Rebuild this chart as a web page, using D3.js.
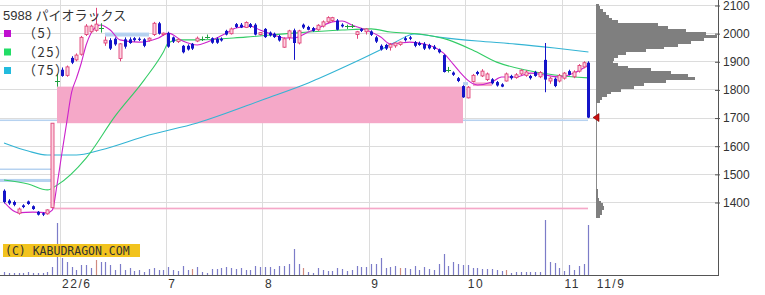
<!DOCTYPE html>
<html>
<head>
<meta charset="utf-8">
<script src="https://cdn.jsdelivr.net/npm/d3@7"></script>
<style>
body { margin: 0; background: #fff; }
text { font-family: "Liberation Sans", "Noto Sans CJK JP", Arial, sans-serif; }
</style>
</head>
<body>
<svg id="chart" width="765" height="295"></svg>
<script>
// trading days shown (22/5/16 - 22/11/9)
var dates = ["5/16","5/17","5/18","5/19","5/20","5/23","5/24","5/25","5/26","5/27","5/30","5/31",
    "6/1","6/2","6/3","6/6","6/7","6/8","6/9","6/10","6/13","6/14","6/15","6/16","6/17","6/20","6/21","6/22","6/23","6/24","6/27","6/28","6/29","6/30",
    "7/1","7/4","7/5","7/6","7/7","7/8","7/11","7/12","7/13","7/14","7/15","7/19","7/20","7/21","7/22","7/25","7/26","7/27","7/28","7/29",
    "8/1","8/2","8/3","8/4","8/5","8/8","8/9","8/10","8/12","8/15","8/16","8/17","8/18","8/19","8/22","8/23","8/24","8/25","8/26","8/29","8/30","8/31",
    "9/1","9/2","9/5","9/6","9/7","9/8","9/9","9/12","9/13","9/14","9/15","9/16","9/20","9/21","9/22","9/26","9/27","9/28","9/29","9/30",
    "10/3","10/4","10/5","10/6","10/7","10/11","10/12","10/13","10/14","10/17","10/18","10/19","10/20","10/21","10/24","10/25","10/26","10/27","10/28","10/31",
    "11/1","11/2","11/4","11/7","11/8","11/9"];

var opens = [1440,1405,1400,1360,1388,1402,1385,1365,1360,1358,
    1380,1830,1870,1850,1912,1905,1925,1995,2005,2010,
    2018,1965,1975,1980,1910,1978,1978,1982,1980,1978,
    1975,1995,2035,1995,2000,1985,1970,1955,1955,1962,
    1972,1978,1985,1982,1980,1980,2008,1998,2032,2030,
    2020,2032,2030,1995,2015,2002,1998,1990,1950,1985,
    2010,1965,2030,2022,2018,2012,2025,2040,2045,2045,
    2030,2025,2025,1995,2015,2005,2006,1985,1955,1958,
    1950,1955,1960,1982,1985,1968,1965,1962,1958,1952,
    1942,1922,1870,1860,1840,1812,1770,1828,1862,1848,
    1835,1836,1826,1818,1830,1848,1842,1855,1850,1848,
    1862,1845,1905,1830,1838,1830,1840,1865,1845,1865,
    1880,1895];
var highs = [1445,1410,1405,1380,1392,1405,1388,1368,1363,1374,
    1680,1855,1878,1885,1918,1928,1990,2032,2030,2090,
    2035,1988,1982,1985,1965,1985,1985,1986,1985,1982,
    1985,2040,2040,2002,2005,1988,1982,1958,1960,1965,
    1988,1988,1995,1985,1985,1985,2012,2020,2036,2036,
    2042,2036,2035,2004,2018,2006,2002,1994,1985,2012,
    2016,2012,2034,2026,2022,2032,2045,2060,2058,2050,
    2035,2030,2032,2008,2018,2018,2010,1990,1960,1962,
    1965,1968,1970,1988,1990,1972,1970,1968,1962,1958,
    1945,1925,1880,1864,1844,1815,1812,1855,1866,1872,
    1860,1840,1830,1822,1860,1852,1858,1872,1868,1852,
    1866,1865,1965,1845,1842,1855,1862,1870,1868,1890,
    1900,1900];
var lows = [1395,1390,1385,1355,1378,1390,1372,1352,1350,1355,
    1380,1810,1845,1845,1890,1900,1920,1990,2000,2005,
    2002,1955,1940,1955,1900,1945,1962,1970,1972,1950,
    1970,1990,1995,1990,1948,1965,1965,1928,1938,1940,
    1968,1972,1980,1962,1962,1970,1992,1995,2018,2018,
    2018,2018,1992,1992,1983,1988,1983,1970,1948,1975,
    1905,1960,2015,2010,2005,2008,2020,2035,2040,2010,
    2020,2015,2018,1980,2004,1995,1990,1965,1938,1940,
    1938,1948,1955,1970,1975,1950,1955,1940,1942,1940,
    1928,1860,1860,1848,1826,1770,1768,1825,1850,1844,
    1830,1818,1810,1808,1828,1835,1838,1850,1845,1835,
    1845,1840,1790,1820,1808,1825,1835,1850,1840,1860,
    1875,1698];
var closes = [1400,1395,1390,1375,1382,1393,1375,1355,1355,1372,
    1680,1830,1848,1880,1895,1922,1985,2025,2025,2032,
    2018,1975,1945,1960,1962,1952,1965,1975,1976,1955,
    1982,2035,1998,2000,1952,1970,1978,1932,1942,1945,
    1982,1978,1985,1966,1966,1974,1995,2015,2022,2020,
    2038,2022,1995,2002,1986,1992,1986,1974,1980,2008,
    1965,2008,2020,2012,2008,2028,2040,2055,2055,2012,
    2024,2025,2025,2005,2008,2015,1994,1970,1942,1945,
    1960,1965,1968,1975,1980,1955,1958,1945,1946,1944,
    1932,1862,1870,1852,1830,1772,1808,1850,1855,1865,
    1855,1822,1814,1810,1855,1840,1852,1868,1862,1840,
    1848,1860,1835,1840,1812,1850,1858,1852,1862,1885,
    1895,1700];
// volume, 10k shares
var volumes = [3,2,2,2,2,3,2,2,2,3,
    8,52,17,13,8,5,10,10,7,15,
    13,13,10,5,11,5,7,4,5,3,
    6,7,5,5,8,5,4,9,5,6,
    8,3,2,6,6,7,8,7,6,7,
    5,5,9,8,8,8,6,9,9,11,
    26,11,7,3,2,7,5,4,4,7,
    6,4,5,9,8,8,11,11,17,7,
    8,9,7,7,6,9,5,8,6,5,
    11,21,9,13,11,10,10,7,7,6,
    6,6,5,4,5,2,3,3,3,3,
    3,3,55,13,12,7,4,10,5,9,
    11,50];
var volMarked = [19, 39, 62, 82, 104];

// moving averages: [day index, price]
var ma5 = [[0,1400],[3,1362],[6,1364],[9,1362],[10,1371],[11,1464],[12,1575],[13,1685],[14,1790],[15,1840],
    [16,1894],[17,1958],[18,2000],[19,2022],[20,2029],[22,2011],[24,1976],[28,1968],[32,1983],[34,2000],
    [37,1972],[40,1958],[42,1968],[44,1983],[46,2000],[48,2018],[51,2025],[53,2011],[56,1993],[58,1983],
    [60,1983],[63,2004],[65,2018],[68,2040],[70,2043],[72,2029],[75,2011],[78,1986],[80,1961],[82,1965],
    [84,1968],[87,1961],[89,1951],[91,1929],[93,1890],[95,1850],[96,1833],[98,1816],[101,1826],[103,1844],
    [106,1844],[109,1858],[112,1851],[115,1844],[118,1858],[121,1887]];
var ma25 = [[0,1478],[5,1464],[9,1443],[11,1460],[17,1556],[23,1705],[29,1833],[33,1933],[34,1965],[36,1976],
    [40,1976],[50,1986],[60,2000],[70,2011],[76,2015],[80,2004],[86,1997],[92,1976],[97,1940],[102,1897],
    [108,1869],[114,1851],[121,1841]];
var ma75 = [[0,1610],[5,1581],[9,1567],[15,1567],[20,1585],[30,1638],[40,1681],[54,1766],[63,1823],[71,1884],
    [77,1933],[81,1968],[85,1997],[90,1986],[98,1972],[106,1961],[114,1947],[121,1933]];

// unfilled price gaps (窓)
var gapFrom = [0, 0, 0, 10, 11, 21, 95, 97];
var gapTo = [121, 10, 10, 121, 95, 30, 96, 101];
var gapLow = [1688, 1515, 1471, 1374, 1680, 1988, 1815, 1812];
var gapHigh = [1693, 1519, 1482, 1380, 1810, 2002, 1826, 1825];
var gapUp = [false, false, false, true, true, false, false, true];

// price-by-volume profile
var profPrices = [2100,2090,2080,2070,2060,2050,2040,2030,2020,2010,2000,1990,1980,1970,1960,1950,1940,1930,
    1920,1910,1900,1890,1880,1870,1860,1850,1840,1830,1820,1810,1800,1790,1780,1770,1760,
    1440,1430,1420,1410,1400,1390,1380,1370,1360,1350];
var profVols = [3,4,7,10,13,16,22,62,72,90,110,121,108,95,82,68,50,30,
    22,18,17,22,32,55,75,92,99,70,48,38,25,15,11,6,4,
    2,2,2,3,5,7,8,6,6,4];

var monthTicks = ["6/1", "7/1", "8/1", "9/1", "10/3", "11/1"];
var monthLabels = ["22/6", "7", "8", "9", "10", "11"];
var priceTicks = [1400, 1500, 1600, 1700, 1800, 1900, 2000, 2100];

var maNames = ["（5）", "（25）", "（75）"];
var maColors = ["#cc22cc", "#33cc66", "#33b4d4"];
var legendColors = ["#c010d0", "#22dd66", "#22bbdd"];

var svg = d3.select("svg#chart"),
    axisX = 718,
    baseY = 275,
    profX = 596;

var x = d3.scaleBand()
    .domain(dates)
    .range([1.6, 1.6 + dates.length * 4.83]);

var y = d3.scaleLinear()
    .domain([1400, 2100])
    .range([202, 5]);

var yv = d3.scaleLinear()
    .domain([0, 60])
    .range([baseY, baseY - 60]);

var xp = d3.scaleLinear()
    .domain([0, d3.max(profVols)])
    .range([profX, axisX - 1]);

function cx(i) { return Math.round(x(dates[i]) + x.bandwidth() / 2); }
function px(v) { return Math.round(v) + 0.5; }

// grid
var grid = svg.append("g").attr("stroke", "#dcdcdc").attr("shape-rendering", "crispEdges");
grid.selectAll(".h")
    .data(priceTicks)
    .enter().append("line")
    .attr("x1", 0).attr("x2", axisX)
    .attr("y1", function (d) { return px(y(d)); })
    .attr("y2", function (d) { return px(y(d)); });
grid.selectAll(".v")
    .data(monthTicks)
    .enter().append("line")
    .attr("x1", function (d) { return px(x(d)); })
    .attr("x2", function (d) { return px(x(d)); })
    .attr("y1", 0).attr("y2", baseY);

// gaps
svg.append("g").selectAll("rect")
    .data(gapFrom.map(function (f, i) { return i; }))
    .enter().append("rect")
    .attr("x", function (i) { return gapFrom[i] === 0 ? 0 : cx(gapFrom[i]); })
    .attr("width", function (i) { return cx(gapTo[i]) - (gapFrom[i] === 0 ? 0 : cx(gapFrom[i])); })
    .attr("y", function (i) { return y(gapHigh[i]); })
    .attr("height", function (i) { return Math.max(1.5, y(gapLow[i]) - y(gapHigh[i])); })
    .attr("fill", function (i) { return gapUp[i] ? "#f5a8c8" : "#b6d2f0"; });

// moving averages
var line = d3.line()
    .x(function (d) { return x(dates[d[0]]) + x.bandwidth() / 2; })
    .y(function (d) { return y(d[1]); })
    .curve(d3.curveMonotoneX);

[ma75, ma25, ma5].forEach(function (ma, k) {
    svg.append("path")
        .datum(ma)
        .attr("fill", "none")
        .attr("stroke", maColors[2 - k])
        .attr("stroke-width", 1.1)
        .attr("d", line);
});

// candles
var idx = dates.map(function (d, i) { return i; });
var candle = svg.append("g").selectAll("g")
    .data(idx)
    .enter().append("g");

candle.append("line")
    .attr("x1", function (i) { return cx(i) + 0.5; })
    .attr("x2", function (i) { return cx(i) + 0.5; })
    .attr("y1", function (i) { return y(highs[i]); })
    .attr("y2", function (i) { return y(lows[i]); })
    .attr("stroke", function (i) {
        return closes[i] > opens[i] ? "#e0457a" : closes[i] < opens[i] ? "#1414c8" : "#22a040";
    });

candle.filter(function (i) { return closes[i] !== opens[i]; })
    .append("rect")
    .attr("x", function (i) { return cx(i) - 1; })
    .attr("width", 3)
    .attr("y", function (i) { return y(Math.max(opens[i], closes[i])); })
    .attr("height", function (i) { return Math.max(1, Math.abs(y(opens[i]) - y(closes[i]))); })
    .attr("fill", function (i) { return closes[i] > opens[i] ? "#fcd2e0" : "#1414c8"; })
    .attr("stroke", function (i) { return closes[i] > opens[i] ? "#e0457a" : "none"; })
    .attr("stroke-width", 0.9);

candle.filter(function (i) { return closes[i] === opens[i]; })
    .append("line")
    .attr("x1", function (i) { return cx(i) - 2; })
    .attr("x2", function (i) { return cx(i) + 3; })
    .attr("y1", function (i) { return px(y(opens[i])); })
    .attr("y2", function (i) { return px(y(opens[i])); })
    .attr("stroke", "#22a040");

// volume
svg.append("g").selectAll("line")
    .data(idx)
    .enter().append("line")
    .attr("x1", function (i) { return cx(i) + 0.5; })
    .attr("x2", function (i) { return cx(i) + 0.5; })
    .attr("y1", baseY)
    .attr("y2", function (i) { return yv(volumes[i]); })
    .attr("stroke", function (i) { return volMarked.indexOf(i) >= 0 ? "#d08a80" : "#7c7cc8"; })
    .attr("stroke-width", 1.2);

// price-by-volume profile
svg.append("line")
    .attr("x1", profX + 0.5).attr("x2", profX + 0.5)
    .attr("y1", y(2100)).attr("y2", y(1350))
    .attr("stroke", "#8a8a8a");
svg.append("g")
    .attr("shape-rendering", "crispEdges")
    .selectAll("rect")
    .data(profPrices.map(function (p, i) { return i; }))
    .enter().append("rect")
    .attr("x", profX)
    .attr("y", function (i) { return y(profPrices[i] + 5); })
    .attr("height", function (i) { return y(profPrices[i] - 5) - y(profPrices[i] + 5) + 0.8; })
    .attr("width", function (i) { return xp(profVols[i]) - profX; })
    .attr("fill", "#7f7f7f");

// last price marker
var ly = y(closes[closes.length - 1]);
svg.append("path")
    .attr("d", "M" + (profX - 3) + "," + ly + "L" + (profX + 3) + "," + (ly - 4) + "L" + (profX + 3) + "," + (ly + 4) + "Z")
    .attr("fill", "#cc1010")
    .attr("stroke", "#700000")
    .attr("stroke-width", 0.6);

// axes
svg.append("line")
    .attr("x1", axisX + 0.5).attr("x2", axisX + 0.5)
    .attr("y1", 0).attr("y2", baseY + 0.5)
    .attr("stroke", "#555");
svg.append("line")
    .attr("x1", 0).attr("x2", axisX + 1)
    .attr("y1", baseY + 0.5).attr("y2", baseY + 0.5)
    .attr("stroke", "#555");

var yAxis = svg.append("g")
    .attr("transform", "translate(" + (axisX - 3) + ",0.5)")
    .call(d3.axisRight(y).tickValues(priceTicks).tickSize(5).tickPadding(3).tickFormat(d3.format("d")));
yAxis.select(".domain").remove();
yAxis.selectAll("line").attr("stroke", "#555");
yAxis.selectAll("text")
    .attr("fill", "#333")
    .style("font", "12px 'Liberation Sans', Arial, sans-serif");

svg.append("g").selectAll("text")
    .data(monthTicks)
    .enter().append("text")
    .attr("x", function (d) { return x(d) + 2.5; })
    .attr("y", 288)
    .attr("fill", "#333")
    .style("font-size", "12px")
    .style("letter-spacing", "1.5px")
    .text(function (d, i) { return monthLabels[i]; });

svg.append("text")
    .attr("x", x(dates[dates.length - 1]) + x.bandwidth() + 6)
    .attr("y", 288)
    .attr("fill", "#333")
    .style("font-size", "12px")
    .style("letter-spacing", "1.5px")
    .text("11/9");

// title and legend
svg.append("text")
    .attr("x", 3)
    .attr("y", 20)
    .attr("fill", "#333")
    .style("font-size", "13px")
    .text("5988 パイオラックス");

var legend = svg.append("g").selectAll("g")
    .data(maNames)
    .enter().append("g")
    .attr("transform", function (d, i) { return "translate(4," + (30 + i * 18.5) + ")"; });
legend.append("rect")
    .attr("width", 7).attr("height", 7)
    .attr("fill", function (d, i) { return legendColors[i]; });
legend.append("text")
    .attr("x", 19)
    .attr("y", 8)
    .attr("fill", "#333")
    .style("font-family", "'Noto Sans CJK JP', sans-serif")
    .style("font-size", "13px")
    .style("letter-spacing", "1.5px")
    .text(function (d) { return d; });

// copyright
svg.append("rect")
    .attr("x", 3).attr("y", 244)
    .attr("width", 137).attr("height", 13)
    .attr("fill", "#f2c31e");
svg.append("text")
    .attr("x", 5)
    .attr("y", 254.5)
    .attr("fill", "#333")
    .style("font", "11.5px 'DejaVu Sans Mono', monospace")
    .text("(C) KABUDRAGON.COM");
</script>
</body>
</html>
